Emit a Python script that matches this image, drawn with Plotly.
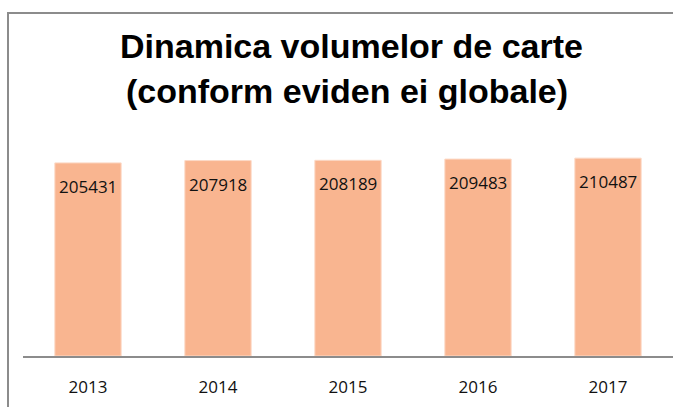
import plotly.graph_objects as go

years = ["2013", "2014", "2015", "2016", "2017"]
volumes = [205431, 207918, 208189, 209483, 210487]
title_lines = ["Dinamica volumelor de carte", "(conform eviden ei globale)"]

W, H = 673, 407
ML, MR, MT, MB = 23, 0, 121, 51
PW, PH = W - ML - MR, H - MT - MB

def px_x(px):
    return (px - ML) / PW

def px_y(py):
    return (H - MB - py) / PH

fig = go.Figure()
fig.add_trace(go.Bar(
    x=years, y=volumes,
    marker=dict(color="#F9B590", line=dict(color="#FCD9C6", width=1)),
    hoverinfo="skip",
))

# value labels (category index used as x so numeric-looking names are not misread)
for i, v in enumerate(volumes):
    fig.add_annotation(x=i, y=v, text=str(v), showarrow=False,
                       yanchor="top", yshift=-10,
                       font=dict(family="Open Sans", size=17, color="#111111"))

fig.add_annotation(xref="paper", yref="paper", x=px_x(351), y=px_y(46),
                   text="<b>%s</b>" % title_lines[0], showarrow=False,
                   xanchor="center", yanchor="middle",
                   font=dict(family="Liberation Sans, Arial", size=34, color="#000000"))
fig.add_annotation(xref="paper", yref="paper", x=px_x(347), y=px_y(91),
                   text="<b>%s</b>" % title_lines[1], showarrow=False,
                   xanchor="center", yanchor="middle",
                   font=dict(family="Liberation Sans, Arial", size=34, color="#000000"))

# chart border (left and top)
fig.add_shape(type="path", xref="paper", yref="paper",
              path="M %f %f L %f %f L %f %f" % (px_x(8), px_y(H + 5), px_x(8), px_y(13), px_x(W + 5), px_y(13)),
              line=dict(color="#8C8C8C", width=2))

fig.update_layout(
    width=W, height=H,
    margin=dict(l=ML, r=MR, t=MT, b=MB),
    paper_bgcolor="white", plot_bgcolor="white",
    bargap=0.49,
    showlegend=False,
    xaxis=dict(type="category", showline=True, linecolor="#8C8C8C", linewidth=2,
               ticks="", ticklabelstandoff=15,
               tickfont=dict(family="Open Sans", size=17, color="#111111"),
               showgrid=False, zeroline=False, fixedrange=True),
    yaxis=dict(range=[0, 250000], visible=False, showgrid=False,
               zeroline=False, fixedrange=True),
)

fig.write_html("out.html", config={"displayModeBar": False},
               post_script="document.body.style.margin='0';document.body.style.overflow='hidden';")
